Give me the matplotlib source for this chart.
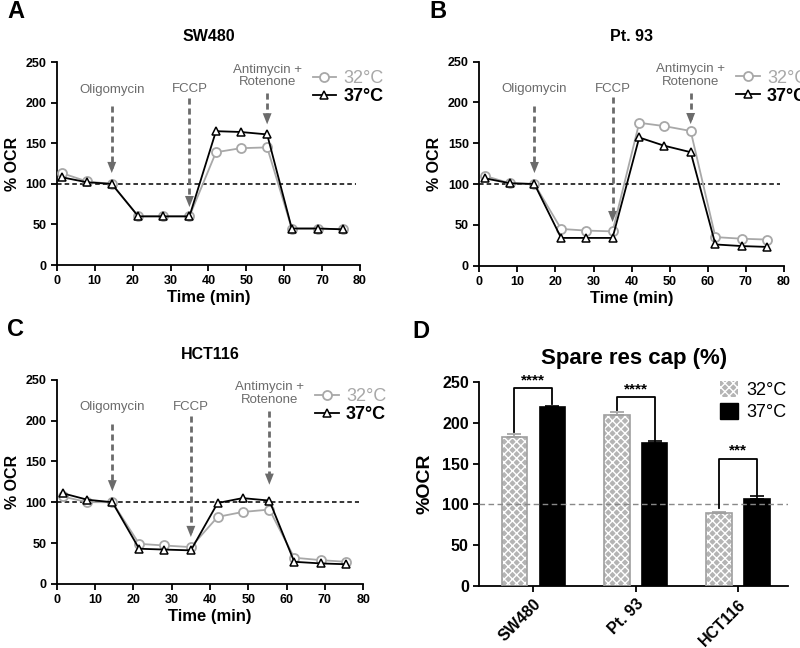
import numpy as np
import matplotlib.pyplot as plt
from matplotlib.patches import Patch

plt.rcParams['font.family'] = ['Liberation Sans', 'DejaVu Sans']

time = [1.5, 8, 14.5, 21.5, 28, 35, 42, 48.5, 55.5, 62, 69, 75.5]

sw480_32 = [113, 103, 100, 60, 60, 60, 139, 144, 145, 45, 45, 44]
sw480_37 = [108, 102, 100, 60, 60, 60, 165, 164, 161, 45, 45, 44]
pt93_32 = [110, 101, 100, 45, 43, 42, 175, 171, 165, 35, 33, 32]
pt93_37 = [107, 101, 100, 34, 34, 34, 157, 147, 139, 26, 24, 23]
hct_32 = [107, 100, 100, 49, 47, 45, 82, 88, 91, 32, 29, 27]
hct_37 = [111, 103, 100, 43, 42, 41, 99, 105, 102, 27, 25, 24]

lines = [
    ('A', 'SW480', sw480_32, sw480_37, [0.071, 0.591, 0.379, 0.313], (68, 170)),
    ('B', 'Pt. 93', pt93_32, pt93_37, [0.599, 0.590, 0.381, 0.315], (50, 170)),
    ('C', 'HCT116', hct_32, hct_37, [0.071, 0.099, 0.383, 0.315], (54, 118)),
]

# injection times
inj_x = [14.5, 35, 55.5]
inj_lbl = ['Oligomycin', 'FCCP', 'Antimycin +\nRotenone']

cells = ['SW480', 'Pt. 93', 'HCT116']
spare_32 = [182, 210, 89]
spare_37 = [219, 175, 107]
err_32 = [4, 3, 2]
err_37 = [2, 2, 3]
stars = ['****', '****', '***']
# significance brackets: left end, right end, top
brk_l = [188, 215, 95]
brk_r = [223, 179, 111]
brk_top = [242, 231, 156]

gray = '#a8a8a8'
agray = '#6b6b6b'

fig = plt.figure(figsize=(8, 6.48), dpi=100)

for letter, title, y32, y37, pos, (fccp_tip, am_tip) in lines:
    ax = fig.add_axes(pos)
    ax.hlines(100, 0, 79, colors='black', linestyles=(0, (3, 2)), lw=1.1, zorder=1)
    ax.plot(time, y32, color=gray, lw=1.3, marker='o', ms=6.5, mfc='white',
            mec=gray, mew=1.3, label='32°C', zorder=3)
    ax.plot(time, y37, color='black', lw=1.3, marker='^', ms=5.5, mfc='white',
            mec='black', mew=1.1, label='37°C', zorder=4)
    tops = [196, 206, 212]
    tips = [110, fccp_tip, am_tip]
    for x, t, tip, lbl in zip(inj_x, tops, tips, inj_lbl):
        ax.plot([x, x], [t, tip + 10], color=agray, lw=2, ls=(0, (2.2, 1.4)), zorder=5)
        ax.annotate('', xy=(x, tip), xytext=(x, tip + 12),
                    arrowprops=dict(arrowstyle='-|>,head_width=0.32,head_length=0.8',
                                    color=agray, lw=0), zorder=5)
    ax.text(inj_x[0], 216, inj_lbl[0], ha='center', va='center', color=agray, fontsize=9.5)
    ax.text(inj_x[1], 217, inj_lbl[1], ha='center', va='center', color=agray, fontsize=9.5)
    ax.text(inj_x[2], 233, inj_lbl[2], ha='center', va='center', color=agray, fontsize=9.5,
            linespacing=1.05)
    ax.set_xlim(0, 80)
    ax.set_ylim(0, 250)
    ax.set_xticks(np.arange(0, 81, 10))
    ax.set_yticks(np.arange(0, 251, 50))
    for s in ['top', 'right']:
        ax.spines[s].set_visible(False)
    for s in ['left', 'bottom']:
        ax.spines[s].set_linewidth(1.3)
    ax.tick_params(width=1.3, length=4, labelsize=9)
    for lab in ax.get_xticklabels() + ax.get_yticklabels():
        lab.set_fontweight('bold')
    ax.set_xlabel('Time (min)', fontsize=12, fontweight='bold', labelpad=2)
    ax.set_ylabel('% OCR', fontsize=11.5, fontweight='bold', labelpad=4)
    ax.set_title(title, fontsize=11.5, fontweight='bold', pad=15)
    leg = ax.legend(loc='upper left', bbox_to_anchor=(0.82, 0.995), frameon=False,
                    fontsize=13, handlelength=1.3, handletextpad=0.4, labelspacing=0.05,
                    borderaxespad=0)
    txt = leg.get_texts()
    txt[0].set_color(gray)
    txt[1].set_fontweight('bold')
    fig.text(pos[0] - 0.062, pos[1] + pos[3] + 0.078, letter, fontsize=17, fontweight='bold',
             va='center')

# panel D
pos = [0.599, 0.0957, 0.386, 0.315]
ax = fig.add_axes(pos)
xi = np.arange(len(cells))
off = 0.185
w = 0.25
ax.bar(xi - off, spare_32, w, color='#b4b4b4', edgecolor='white', hatch='xxxx', lw=0, zorder=2)
ax.bar(xi - off, spare_32, w, fill=False, edgecolor='#a0a0a0', lw=1.2, zorder=3)
ax.errorbar(xi - off, spare_32, yerr=[[0] * 3, err_32], fmt='none', ecolor='#a0a0a0',
            capsize=5, elinewidth=1.2, capthick=1.2, zorder=3)
ax.bar(xi + off, spare_37, w, color='black', edgecolor='black', lw=1.2, zorder=2)
ax.errorbar(xi + off, spare_37, yerr=[[0] * 3, err_37], fmt='none', ecolor='black',
            capsize=5, elinewidth=1.2, capthick=1.2, zorder=3)
ax.axhline(100, color='#888888', ls=(0, (4, 2.5)), lw=1, zorder=4)

for i in range(len(cells)):
    ax.plot([xi[i] - off, xi[i] - off, xi[i] + off, xi[i] + off],
            [brk_l[i], brk_top[i], brk_top[i], brk_r[i]], color='black', lw=1.3, zorder=5)
    ax.text(xi[i], brk_top[i] + 1, stars[i], ha='center', va='bottom', fontsize=11,
            fontweight='bold')

ax.set_xlim(-0.53, 2.49)
ax.set_ylim(0, 250)
ax.set_yticks(np.arange(0, 251, 50))
ax.set_xticks(xi)
ax.set_xticklabels(cells, rotation=45, ha='right', rotation_mode='anchor',
                   fontsize=13, fontweight='bold')
for s in ['top', 'right']:
    ax.spines[s].set_visible(False)
for s in ['left', 'bottom']:
    ax.spines[s].set_linewidth(1.3)
ax.tick_params(width=1.3, length=4, labelsize=11.5)
for lab in ax.get_yticklabels():
    lab.set_fontweight('bold')
ax.set_ylabel('%OCR', fontsize=14, fontweight='bold', labelpad=6)
ax.set_title('Spare res cap (%)', fontsize=16, fontweight='bold', pad=13)
handles = [Patch(facecolor='#b4b4b4', edgecolor='white', hatch='xxxx', lw=0),
           Patch(facecolor='black', edgecolor='black')]
leg = ax.legend(handles, ['32°C', '37°C'], loc='upper right', bbox_to_anchor=(1.02, 1.04),
                frameon=False, fontsize=13, handlelength=1.0, handleheight=1.0,
                handletextpad=0.5, labelspacing=0.2, borderaxespad=0)
fig.text(pos[0] - 0.083, pos[1] + pos[3] + 0.078, 'D', fontsize=17, fontweight='bold',
         va='center')

fig.savefig('out.png', dpi=100)
